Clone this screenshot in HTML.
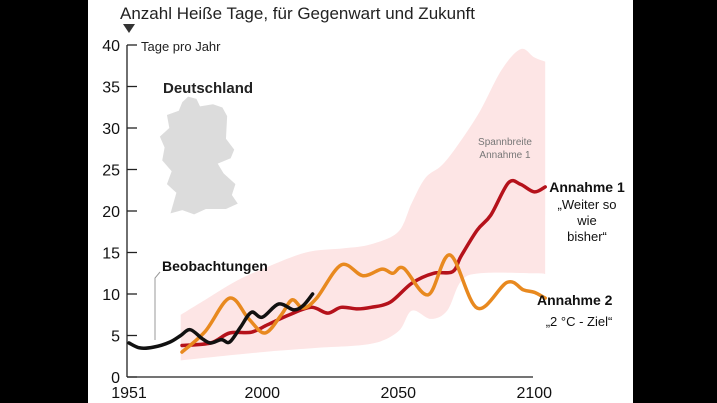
<!DOCTYPE html>
<html><head><meta charset="utf-8"><style>
html,body{margin:0;padding:0;background:#000}
#wrap{position:relative;width:717px;height:403px;background:#000;overflow:hidden}
svg{position:absolute;left:0;top:0}
text{font-family:"Liberation Sans",sans-serif}
</style></head><body>
<div id="wrap">
<svg id="chart" width="717" height="403">
<rect x="88" y="0" width="545" height="403" fill="#fff"/>
<text x="120" y="19" font-size="17" fill="#222">Anzahl Heiße Tage, für Gegenwart und Zukunft</text>
<polygon points="123,24 135,24 129,33" fill="#333"/>
<text x="141" y="51" font-size="13" fill="#222">Tage pro Jahr</text>
<text x="163" y="93" font-size="15" font-weight="bold" fill="#222">Deutschland</text>
<g transform="translate(200,155) scale(1.18,1.08) translate(-200,-155)">
<polygon points="190,101 197,103 200,110 211,108 219,111 223,119 222,140 229,150 226,158 215,163 220,172 230,182 227,192 232,200 222,205 205,205 195,210 185,206 175,209 180,190 172,182 176,170 168,160 170,148 166,138 174,130 172,118 182,114 185,106" fill="#dcdcdc"/>
</g>
<g id="band"></g>
<g id="axes"></g>
<g id="series"></g>
<text x="505" y="145" font-size="10" fill="#777" text-anchor="middle">Spannbreite</text>
<text x="505" y="158" font-size="10" fill="#777" text-anchor="middle">Annahme 1</text>
<text x="587" y="192" font-size="14" font-weight="bold" fill="#111" text-anchor="middle">Annahme 1</text>
<text x="587" y="209" font-size="13" fill="#111" text-anchor="middle">„Weiter so</text>
<text x="587" y="225" font-size="13" fill="#111" text-anchor="middle">wie</text>
<text x="587" y="241" font-size="13" fill="#111" text-anchor="middle">bisher“</text>
<text x="537" y="305" font-size="14" font-weight="bold" fill="#111">Annahme 2</text>
<text x="579" y="326" font-size="13" fill="#111" text-anchor="middle">„2 °C - Ziel“</text>
<text x="162" y="271" font-size="14" font-weight="bold" fill="#111">Beobachtungen</text>
<polyline points="160,272 155,278 155,340" fill="none" stroke="#999" stroke-width="1"/>
</svg>
</div>
<script>
const yTicks=[0,5,10,15,20,25,30,35,40];
const xTicks=[1951,2000,2050,2100];
const bandYears=[1970,1980,1990,2000,2016,2030,2040,2050,2055,2060,2066,2072,2080,2088,2095,2100,2104];
const bandUpper=[7.5,9.5,11.5,13,15,15.5,16,17.5,21,24,25.5,28,32,37,39.5,38.5,38];
const bandLowerYears=[2104,2100,2080,2073,2068,2062,2055,2050,2040,2020,2000,1970];
const bandLower=[12.4,12.5,12.5,11.5,8,7,8,5.5,4,3.5,3,2];
const obsYears=[1951,1955,1960,1966,1970,1973.5,1978,1981,1985,1988,1992,1996,2000,2006,2011.5,2015,2018.5];
const obsValues=[4.1,3.5,3.6,4.2,5.0,5.7,4.6,4.1,4.5,4.2,6.0,7.8,7.2,8.8,8.1,8.6,10];
const a1Years=[1970.5,1981,1988,1996,2002,2010,2018,2024,2029,2035,2040,2047,2055,2063,2070,2073,2079,2084,2090.5,2095,2100,2104];
const a1Values=[3.8,4.1,5.3,5.4,6.3,7.5,8.4,7.7,8.4,8.2,8.4,9.0,11.3,12.5,12.7,14.5,17.7,19.5,23.4,23.2,22.3,22.9];
const a2Years=[1970.5,1979,1988,1995,2001,2007,2011,2015,2020,2029,2037,2044,2048,2052,2061,2069,2079,2090,2096,2100,2104];
const a2Values=[3.0,5.5,9.5,7,5.3,7.5,9.3,8.3,9.5,13.5,12.2,13,12.5,13.1,9.9,14.7,8.3,11.4,10.5,10.2,9.5];
const NS="http://www.w3.org/2000/svg";
function xs(yr){return 129+(yr-1951)*2.72;}
function ys(v){return 377-v*8.3;}
function smooth(pts){
  let d="M"+pts[0][0].toFixed(1)+","+pts[0][1].toFixed(1);
  for(let i=0;i<pts.length-1;i++){
    const p0=pts[i-1]||pts[i],p1=pts[i],p2=pts[i+1],p3=pts[i+2]||p2;
    const c1=[p1[0]+(p2[0]-p0[0])/6,p1[1]+(p2[1]-p0[1])/6];
    const c2=[p2[0]-(p3[0]-p1[0])/6,p2[1]-(p3[1]-p1[1])/6];
    d+=" C"+c1[0].toFixed(1)+","+c1[1].toFixed(1)+" "+c2[0].toFixed(1)+","+c2[1].toFixed(1)+" "+p2[0].toFixed(1)+","+p2[1].toFixed(1);
  }
  return d;
}
const band=document.getElementById('band');
const up=bandYears.map((y,i)=>[xs(y),ys(bandUpper[i])]);
const lo=bandLowerYears.map((y,i)=>[xs(y),ys(bandLower[i])]);
const bp=document.createElementNS(NS,'path');
bp.setAttribute('d',smooth(up)+" L"+lo[0][0]+","+lo[0][1]+smooth(lo).replace(/^M[^ ]+/,'')+" Z");
bp.setAttribute('fill','#fde5e5');


band.appendChild(bp);
const axes=document.getElementById('axes');
function line(x1,y1,x2,y2,name){const l=document.createElementNS(NS,'line');
l.setAttribute('x1',x1);l.setAttribute('y1',y1);l.setAttribute('x2',x2);l.setAttribute('y2',y2);
l.setAttribute('stroke','#222');l.setAttribute('stroke-width','1.3');


axes.appendChild(l);}
line(127,ys(40),127,377,'y-axis-line');
line(127,377,533,377,'x-axis-line');
yTicks.forEach(v=>{
  line(127,ys(v),137,ys(v),'y-tick');
  const t=document.createElementNS(NS,'text');
  t.setAttribute('x',120);t.setAttribute('y',ys(v)+6);t.setAttribute('font-size','16');
  t.setAttribute('text-anchor','end');t.setAttribute('fill','#111');t.textContent=v;
  
  
  axes.appendChild(t);
});
xTicks.forEach(v=>{
  const t=document.createElementNS(NS,'text');
  t.setAttribute('x',xs(v));t.setAttribute('y',398);t.setAttribute('font-size','16');
  t.setAttribute('text-anchor','middle');t.setAttribute('fill','#111');t.textContent=v;
  
  
  axes.appendChild(t);
});
const series=document.getElementById('series');
function drawLine(yrs,vals,color,name){
  const p=document.createElementNS(NS,'path');
  p.setAttribute('d',smooth(yrs.map((y,i)=>[xs(y),ys(vals[i])])));
  p.setAttribute('fill','none');p.setAttribute('stroke',color);p.setAttribute('stroke-width','3.5');
  p.setAttribute('stroke-linecap','round');p.setAttribute('stroke-linejoin','round');
  
  
  series.appendChild(p);
}
drawLine(a1Years,a1Values,'#b5121b','line-annahme-1');
drawLine(a2Years,a2Values,'#e8891f','line-annahme-2');
drawLine(obsYears,obsValues,'#111','line-observations');
</script>
</body></html>
